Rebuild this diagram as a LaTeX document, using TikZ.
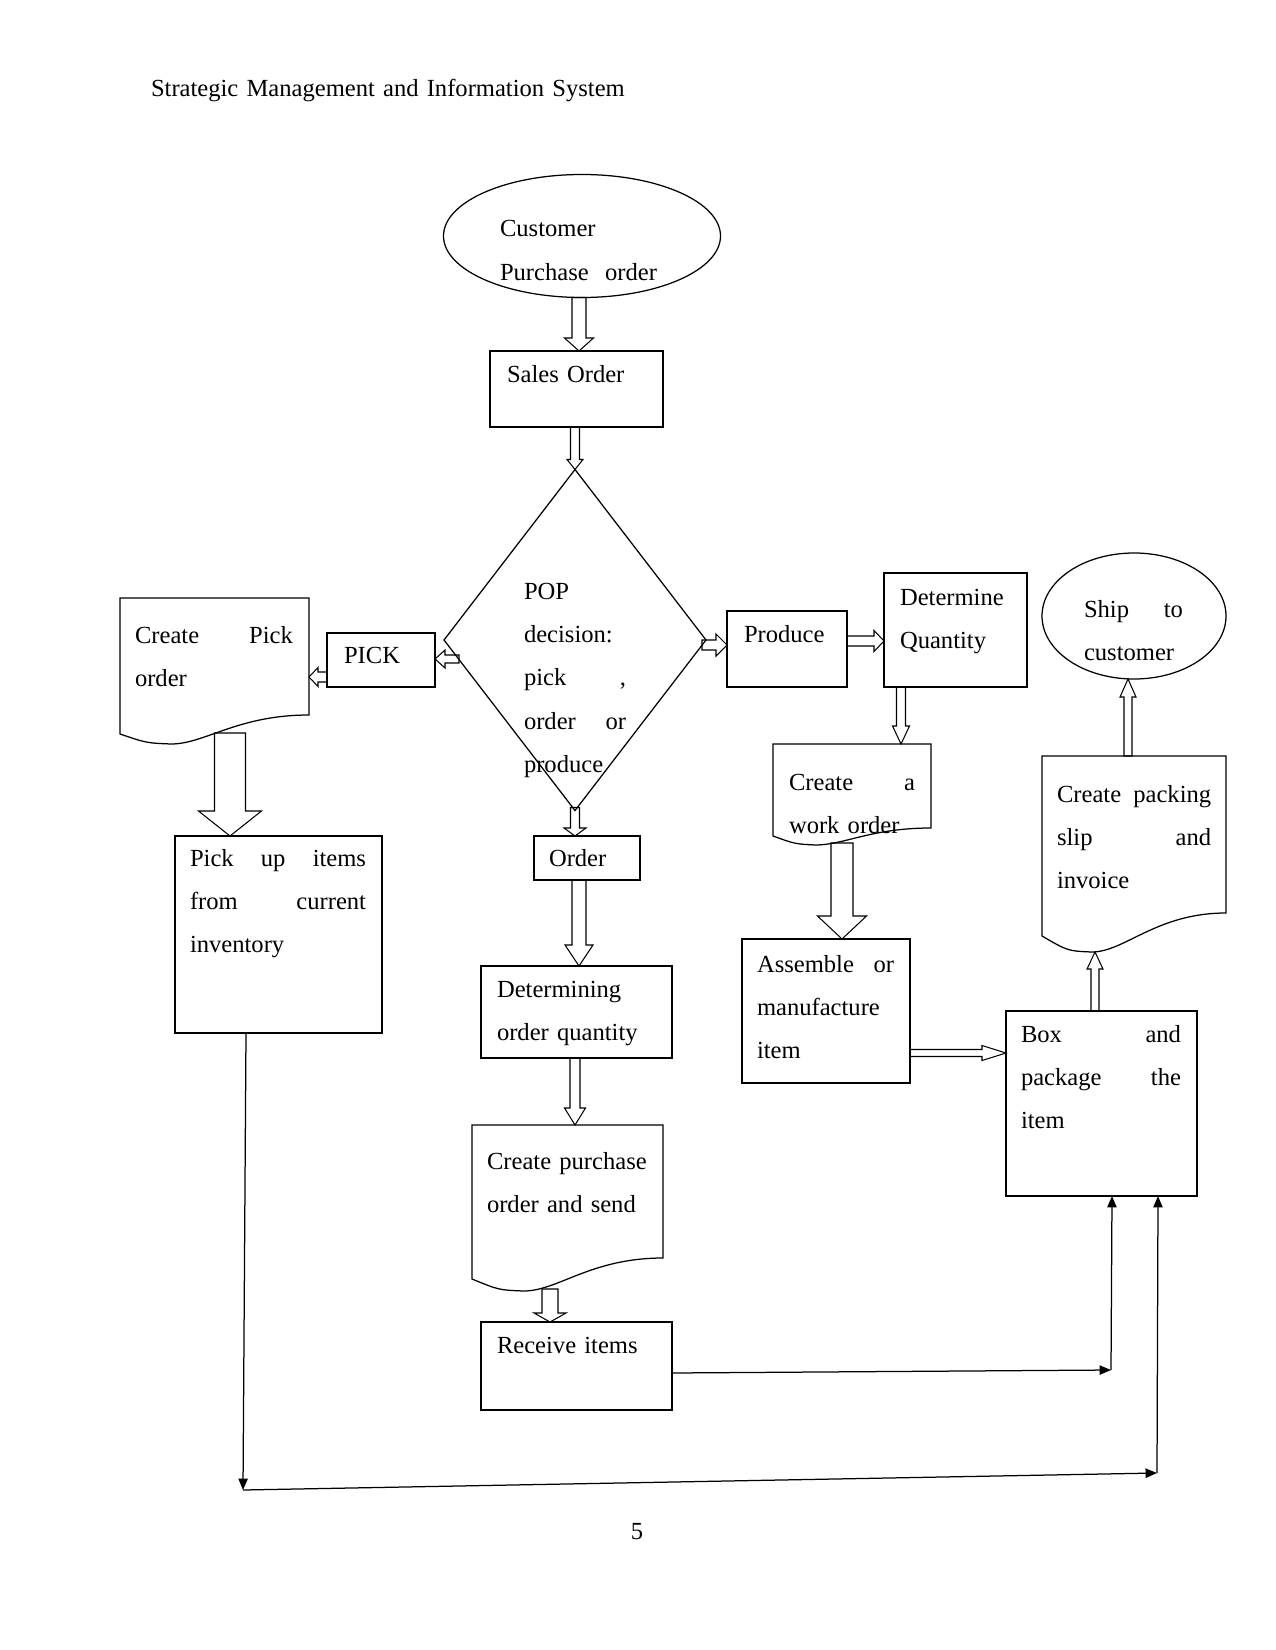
\documentclass[tikz,border=0pt]{standalone}
\usepackage{fontspec}
\setmainfont{Liberation Serif}
\usetikzlibrary{arrows.meta,positioning,calc,shapes.geometric}
\newcommand{\flowfont}{\fontsize{11.8}{20.8}\selectfont}
% document symbol: outline round a named placeholder node, wavy bottom edge
\newcommand{\docshape}[3]{%
  \draw[docline] (#1.north west) -- (#1.north east) -- ($(#1.south east)+(0,-#3)$)
    .. controls ($(#1.south west)!0.62!(#1.south east)+(0,-#3)$) and ($(#1.south west)!0.45!(#1.south east)$)
    .. ($(#1.south west)!0.27!(#1.south east)$)
    .. controls ($(#1.south west)!0.14!(#1.south east)+(0,-1)$) .. ($(#1.south west)+(0,-#2)$) -- cycle;}

\begin{document}
\begin{tikzpicture}[x=0.48pt,y=-0.48pt,
  every node/.style={inner sep=0pt,outer sep=0pt},
  txt/.style={font=\flowfont,anchor=base west,align=left,text width=#1},
  txt/.default=150pt,
  frame/.style 2 args={draw,line width=0.6pt,anchor=north west,minimum width=#1*0.48pt,minimum height=#2*0.48pt},
  slot/.style 2 args={anchor=north west,minimum width=#1*0.48pt,minimum height=#2*0.48pt},
  oval/.style 2 args={draw,line width=0.6pt,ellipse,minimum width=#1*0.48pt,minimum height=#2*0.48pt},
  docline/.style={line width=0.6pt},
  blockline/.style={line width=0.5pt},
  blk/.style n args={3}{to path={let \p1=(\tikztostart),\p2=(\tikztotarget),\p3=($(\p2)!#3*0.48pt!(\p1)$) in
    ($(\p1)!#1*0.48pt!90:(\p2)$) -- ($(\p3)!#1*0.48pt!90:(\p2)$) -- ($(\p3)!#2*0.48pt!90:(\p2)$) -- (\p2)
    -- ($(\p3)!#2*0.48pt!-90:(\p2)$) -- ($(\p3)!#1*0.48pt!-90:(\p2)$) -- ($(\p1)!#1*0.48pt!-90:(\p2)$) -- cycle}},
  flow/.style={line width=0.6pt,-{Triangle[length=5.5pt,width=4.5pt]}}
]
  \useasboundingbox (0,0) rectangle (1275,1650);
  % page header and number
  \node[txt=300pt] (head) at (151,97) {Strategic Management and Information System};
  \node[font=\flowfont,anchor=base] (page) at (637,1539) {5};

  % centre column
  \node[oval={277}{123}] (cpo) at (582,236) {};
  \node[txt] (cpoT) at (500,237) {Customer\\Purchase\ \ order};
  \node[frame={173}{76}] (sales) at (490,351) {};
  \node[txt] (salesT) at (507,383) {Sales Order};
  \node[draw,diamond,line width=0.6pt,minimum width=262*0.48pt,minimum height=341*0.48pt] (pop) at (575,640) {};
  \node[txt=49pt] (popT) at (524,599) {POP\\decision:\\pick\hfill,\\order\hfill or\\produce};
  \node[frame={106}{44}] (order) at (534,836) {};
  \node[txt] (orderT) at (549,866) {Order};
  \node[frame={191}{92}] (determ) at (481,966) {};
  \node[txt] (determT) at (497,997) {Determining\\order quantity};
  \node[slot={191}{166}] (purch) at (472,1125) {};
  \node[txt] (purchT) at (487,1169) {Create purchase\\order and send};
  \node[frame={191}{88}] (receive) at (481,1322) {};
  \node[txt] (receiveT) at (497,1353) {Receive items};

  % pick branch
  \node[slot={189}{146}] (pickord) at (120,598) {};
  \node[txt=75.8pt] (pickordT) at (135,643) {Create\hfill Pick\\order};
  \node[frame={108}{54}] (pick) at (327,633) {};
  \node[txt] (pickT) at (344,663) {PICK};
  \node[frame={207}{197}] (pickup) at (175,836) {};
  \node[txt=84.5pt] (pickupT) at (190,866) {Pick\hfill up\hfill items\\from\hfill current\\inventory};

  % produce branch
  \node[frame={120}{76}] (produce) at (727,611) {};
  \node[txt] (produceT) at (744,642) {Produce};
  \node[frame={143}{114}] (detq) at (884,573) {};
  \node[txt] (detqT) at (900,605) {Determine\\Quantity};
  \node[slot={158}{101}] (workord) at (773,744) {};
  \node[txt=60.5pt] (workordT) at (789,790) {Create\hfill a\\work order};
  \node[frame={168}{144}] (assemble) at (742,939) {};
  \node[txt=65.8pt] (assembleT) at (757,972) {Assemble\hfill or\\manufacture\\item};
  \node[frame={191}{185}] (boxpk) at (1006,1011) {};
  \node[txt=76.8pt] (boxpkT) at (1021,1042) {Box\hfill and\\package\hfill the\\item};
  \node[slot={184}{196}] (packing) at (1042,756) {};
  \node[txt=74pt] (packingT) at (1057,802) {Create\hfill packing\\slip\hfill and\\invoice};
  \node[oval={184}{126}] (ship) at (1134,616) {};
  \node[txt=47.5pt] (shipT) at (1084,617) {Ship\hfill to\\customer};

  \docshape{pickord}{10}{29}
  \docshape{workord}{9}{17}
  \docshape{purch}{12}{33}
  \docshape{packing}{16}{39}

  % block arrows
  \draw[blockline] ($(cpo.south)+(-3,0)$) to[blk={7}{14.5}{13}] ($(sales.north west)+(89,0)$);
  \draw[blockline] ($(sales.south west)+(85,0)$) to[blk={4.5}{8}{10}] (pop.north);
  \draw[blockline] ($(pop.west)+(15,19)$) to[blk={4}{9}{10}] ($(pick.north east)+(0,26)$);
  \draw[blockline] ($(pick.north west)+(0,44)$) to[blk={5}{9.5}{9}] ($(pickord.north east)+(0,79)$);
  \draw[blockline] ($(pickord.south west)+(110,-11)$) to[blk={15.5}{31.5}{25}] ($(pickup.north west)+(55,0)$);
  \draw[blockline] ($(pop.south)+(0,-3)$) to[blk={4.5}{11}{8}] ($(order.north west)+(41,0)$);
  \draw[blockline] ($(order.south west)+(45,0)$) to[blk={7}{14}{21}] ($(determ.north west)+(98,0)$);
  \draw[blockline] ($(determ.south west)+(94,0)$) to[blk={5}{10.5}{17}] ($(purch.north west)+(103,0)$);
  \draw[blockline] ($(purch.south west)+(78,-2)$) to[blk={8}{16}{9}] ($(receive.north west)+(69,0)$);
  \draw[blockline] ($(pop.east)+(-4,5)$) to[blk={5}{11}{11}] ($(produce.north west)+(0,34)$);
  \draw[blockline] ($(produce.north east)+(0,30)$) to[blk={5}{10.5}{10}] ($(detq.north west)+(0,68)$);
  \draw[blockline] ($(detq.south west)+(17,0)$) to[blk={4.5}{8.5}{18}] ($(workord.north west)+(128,0)$);
  \draw[blockline] ($(workord.south west)+(69,-2)$) to[blk={11}{24.5}{23}] ($(assemble.north west)+(100,0)$);
  \draw[blockline] ($(assemble.north east)+(0,114)$) to[blk={3.5}{7.5}{24}] ($(boxpk.north west)+(0,42)$);
  \draw[blockline] ($(boxpk.north west)+(89,0)$) to[blk={4}{8}{17}] ($(packing.south west)+(53,0)$);
  \draw[blockline] ($(packing.north west)+(86,0)$) to[blk={4}{8}{18}] ($(ship.south)+(-6,0)$);

  % thin return lines
  \coordinate (rcvturn) at (1111,1370);
  \coordinate (lowturn) at (243,1490);
  \coordinate (farturn) at (1157,1473);
  \draw[flow] ($(receive.north east)+(0,51)$) -- (rcvturn);
  \draw[flow] (rcvturn) -- ($(boxpk.south west)+(106,0)$);
  \draw[flow] ($(pickup.south west)+(71,0)$) -- (lowturn);
  \draw[flow] (lowturn) -- (farturn);
  \draw[flow] (farturn) -- ($(boxpk.south west)+(152,0)$);
\end{tikzpicture}
\end{document}
